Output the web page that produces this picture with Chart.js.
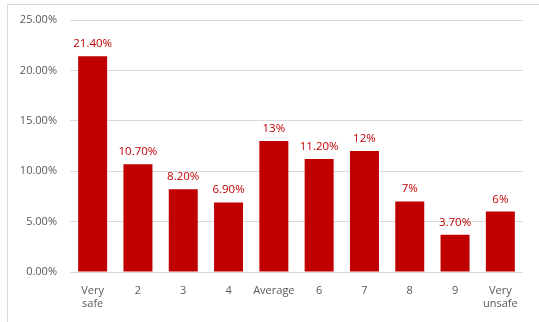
<!DOCTYPE html>
<html>
<head>
<meta charset="utf-8">
<script src="https://cdn.jsdelivr.net/npm/chart.js@4"></script>
<style>
  html, body { margin: 0; padding: 0; background: #fff; overflow: hidden; }
  #frame {
    position: absolute; left: 7px; top: 4px; width: 560px; height: 340px;
    border: 1px solid #d9d9d9; box-sizing: border-box;
  }
  #safety { position: absolute; left: 0; top: 0; }
</style>
</head>
<body>
<div id="frame"></div>
<canvas id="safety" width="539" height="322"></canvas>
<script>
// perceived safety answers, share of respondents (%)
const categories = [['Very', 'safe'], '2', '3', '4', 'Average', '6', '7', '8', '9', ['Very', 'unsafe']]
const shares = [21.4, 10.7, 8.2, 6.9, 13, 11.2, 12, 7, 3.7, 6]
const shareDigits = [2, 2, 2, 2, 0, 2, 0, 0, 2, 0]

const red = '#c00000'
const grey = '#595959'
const fontFamily = '"Open Sans", "Liberation Sans", sans-serif'

// writes the value above each bar
const valueLabels = {
  id: 'valueLabels',
  afterDatasetsDraw(chart) {
    const ctx = chart.ctx
    const meta = chart.getDatasetMeta(0)
    ctx.save()
    ctx.font = `11.5px ${fontFamily}`
    ctx.fillStyle = red
    ctx.textAlign = 'center'
    ctx.textBaseline = 'alphabetic'
    meta.data.forEach((bar, i) => {
      const text = shares[i].toFixed(shareDigits[i]) + '%'
      ctx.fillText(text, bar.x, bar.y - 9)
    })
    ctx.restore()
  },
}

Chart.defaults.font.family = fontFamily
Chart.defaults.font.size = 11
Chart.defaults.color = grey

new Chart(document.getElementById('safety'), {
  type: 'bar',
  data: {
    labels: categories,
    datasets: [
      {
        data: shares,
        backgroundColor: red,
        barPercentage: 0.64,
        categoryPercentage: 1,
      },
    ],
  },
  options: {
    responsive: false,
    animation: false,
    devicePixelRatio: 1,
    layout: { padding: { left: 10, right: 16, top: 20, bottom: 0 } },
    plugins: {
      legend: { display: false },
      tooltip: { enabled: false },
    },
    scales: {
      x: {
        grid: { display: false },
        border: { display: false },
        ticks: { padding: 4, maxRotation: 0, autoSkip: false },
        afterFit: scale => { scale.height = 50 },
      },
      y: {
        min: 0,
        max: 25,
        border: { display: false },
        grid: { color: '#d9d9d9', drawTicks: false },
        ticks: {
          stepSize: 5,
          padding: 13,
          callback: v => v.toFixed(2) + '%',
        },
        afterFit: scale => { scale.width = 60 },
      },
    },
  },
  plugins: [valueLabels],
})
</script>
</body>
</html>
